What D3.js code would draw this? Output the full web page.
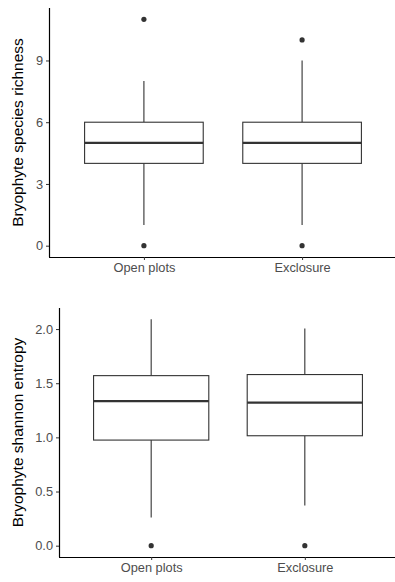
<!DOCTYPE html>
<html>
<head>
<meta charset="utf-8">
<script src="https://cdn.jsdelivr.net/npm/d3@7"></script>
<style>
  body { margin: 0; background: #fff; }
  text { font-family: "Liberation Sans", Arial, sans-serif; }
</style>
</head>
<body>
<div id="vis"></div>
<script>
// groups on the x axis
let groups = ["Open plots", "Exclosure"]

// species richness: lower whisker, q1, median, q3, upper whisker, outliers
let richLow = [1, 1]
let richQ1 = [4, 4]
let richMed = [5, 5]
let richQ3 = [6, 6]
let richHigh = [8, 9]
let richOut = [[0, 11], [0, 10]]
let richTicks = [0, 3, 6, 9]

// shannon entropy
let shanLow = [0.26, 0.37]
let shanQ1 = [0.975, 1.015]
let shanMed = [1.335, 1.32]
let shanQ3 = [1.57, 1.58]
let shanHigh = [2.09, 2.005]
let shanOut = [[0], [0]]
let shanTicks = [0, 0.5, 1.0, 1.5, 2.0]

let svg = d3.select("#vis").append("svg")
    .attr("width", 395)
    .attr("height", 582)

function boxplot(opts) {
    let g = svg.append("g")

    let x = d3.scalePoint()
        .domain(groups)
        .range([opts.left, opts.right])
        .padding(0.6)

    let y = d3.scaleLinear()
        .domain(opts.domain)
        .range([opts.bottom, opts.top])

    let bw = x.step() * 0.75

    let rows = groups.map((k, i) => ({
        key: k,
        low: opts.low[i], q1: opts.q1[i], med: opts.med[i],
        q3: opts.q3[i], high: opts.high[i], out: opts.out[i]
    }))

    let box = g.selectAll("g.box")
        .data(rows)
        .join("g")
        .attr("class", "box")

    // whiskers
    box.append("line")
        .attr("x1", d => x(d.key)).attr("x2", d => x(d.key))
        .attr("y1", d => y(d.q3)).attr("y2", d => y(d.high))
        .attr("stroke", "#333").attr("stroke-width", 1.1)
    box.append("line")
        .attr("x1", d => x(d.key)).attr("x2", d => x(d.key))
        .attr("y1", d => y(d.q1)).attr("y2", d => y(d.low))
        .attr("stroke", "#333").attr("stroke-width", 1.1)

    box.append("rect")
        .attr("x", d => x(d.key) - bw / 2)
        .attr("width", bw)
        .attr("y", d => y(d.q3))
        .attr("height", d => y(d.q1) - y(d.q3))
        .attr("fill", "#fff")
        .attr("stroke", "#333")
        .attr("stroke-width", 1.1)

    box.append("line")
        .attr("x1", d => x(d.key) - bw / 2).attr("x2", d => x(d.key) + bw / 2)
        .attr("y1", d => y(d.med)).attr("y2", d => y(d.med))
        .attr("stroke", "#333").attr("stroke-width", 2.3)

    box.selectAll("circle")
        .data(d => d.out.map(v => ({key: d.key, v: v})))
        .join("circle")
        .attr("cx", d => x(d.key))
        .attr("cy", d => y(d.v))
        .attr("r", 2.6)
        .attr("fill", "#333")

    // axes
    let yAxis = g.append("g")
        .attr("transform", `translate(${opts.left},0)`)
        .call(d3.axisLeft(y).tickValues(opts.ticks).tickSize(3).tickPadding(3)
            .tickFormat(opts.fmt))
    let xAxis = g.append("g")
        .attr("transform", `translate(0,${opts.bottom})`)
        .call(d3.axisBottom(x).tickSize(3).tickPadding(3))

    for (let ax of [yAxis, xAxis]) {
        ax.select(".domain").attr("stroke", "#000").attr("stroke-width", 1.2)
        ax.selectAll(".tick line").attr("stroke", "#333").attr("stroke-width", 1)
        ax.selectAll(".tick text")
            .attr("fill", "#4d4d4d")
            .style("font-size", "12.8px")
            .style("font-family", "'Liberation Sans', Arial, sans-serif")
    }
    yAxis.select(".domain").attr("d", `M0.5,${opts.top}V${opts.bottom}`)
    xAxis.select(".domain").attr("d", `M${opts.left},0.5H395`)

    g.append("text")
        .attr("transform", `translate(${opts.titleX},${(opts.top + opts.bottom) / 2}) rotate(-90)`)
        .attr("text-anchor", "middle")
        .attr("dy", "0.35em")
        .style("font-size", "15.5px")
        .attr("fill", "#000")
        .text(opts.title)
}

boxplot({
    left: 49, right: 397, top: 8, bottom: 257,
    domain: [-0.55, 11.55],
    low: richLow, q1: richQ1, med: richMed, q3: richQ3, high: richHigh, out: richOut,
    ticks: richTicks, fmt: d3.format("d"),
    title: "Bryophyte species richness", titleX: 18
})

boxplot({
    left: 59, right: 397, top: 308, bottom: 557,
    domain: [-0.1045, 2.1945],
    low: shanLow, q1: shanQ1, med: shanMed, q3: shanQ3, high: shanHigh, out: shanOut,
    ticks: shanTicks, fmt: d3.format(".1f"),
    title: "Bryophyte shannon entropy", titleX: 18
})
</script>
</body>
</html>
